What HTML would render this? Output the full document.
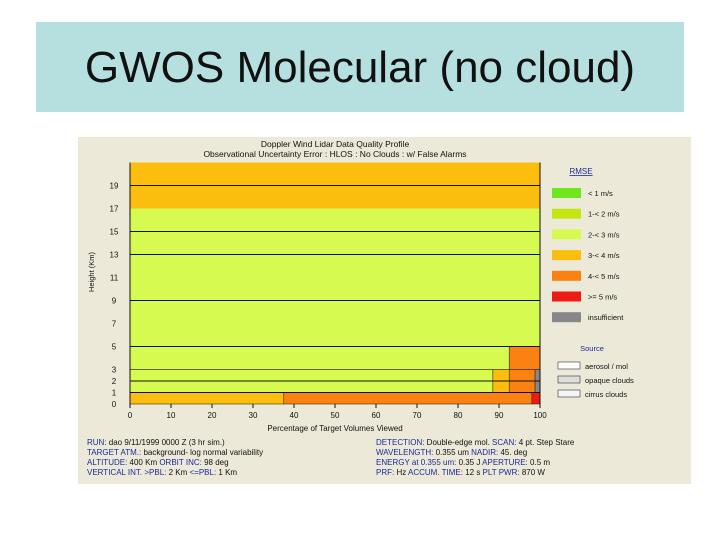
<!DOCTYPE html>
<html><head><meta charset="utf-8"><style>
body{margin:0;width:720px;height:540px;background:#fff;position:relative;overflow:hidden;font-family:"Liberation Sans",sans-serif}
#title{position:absolute;left:36px;top:22px;width:648px;height:90px;background:#b6dfe0;font-size:44px;text-align:center;line-height:92px;color:#111}
svg{position:absolute;left:0;top:0}
</style></head><body>
<div id="title">GWOS Molecular (no cloud)</div>
<svg width="720" height="540" id="chart" font-family="Liberation Sans, sans-serif">
<rect x="78" y="137" width="613" height="347" fill="#ece9d8"/>
<text x="335" y="147" font-size="8.5" text-anchor="middle" fill="#111">Doppler Wind Lidar Data Quality Profile</text>
<text x="335" y="157" font-size="8.5" text-anchor="middle" fill="#111">Observational Uncertainty Error : HLOS : No Clouds : w/ False Alarms</text>
<g id="bars"></g><g id="grid"></g><g id="axes"></g><g id="legend"></g>
<text x="94" y="272" font-size="7.5" fill="#111" text-anchor="middle" transform="rotate(-90 94 272)">Height (Km)</text>
<text x="335" y="431" font-size="8" fill="#111" text-anchor="middle">Percentage of Target Volumes Viewed</text>
<g font-size="8" fill="#1a2a9a">
<text x="87" y="445">RUN:  <tspan fill="#111">dao 9/11/1999 0000 Z (3 hr sim.)</tspan></text>
<text x="87" y="455">TARGET ATM.: <tspan fill="#111">background- log normal variability</tspan></text>
<text x="87" y="465">ALTITUDE: <tspan fill="#111">400 Km</tspan>    ORBIT INC: <tspan fill="#111">98 deg</tspan></text>
<text x="87" y="475">VERTICAL INT. &gt;PBL: <tspan fill="#111">2 Km</tspan>  &lt;=PBL: <tspan fill="#111">1 Km</tspan></text>
<text x="376" y="445">DETECTION: <tspan fill="#111">Double-edge mol.</tspan>  SCAN: <tspan fill="#111">4 pt. Step Stare</tspan></text>
<text x="376" y="455">WAVELENGTH: <tspan fill="#111">0.355 um</tspan>   NADIR: <tspan fill="#111">45. deg</tspan></text>
<text x="376" y="465">ENERGY at 0.355 um: <tspan fill="#111">0.35 J</tspan>  APERTURE: <tspan fill="#111">0.5 m</tspan></text>
<text x="376" y="475">PRF: <tspan fill="#111">Hz</tspan>  ACCUM. TIME: <tspan fill="#111">12 s</tspan> PLT PWR: <tspan fill="#111">870 W</tspan></text>
</g>
</svg>
<script>
const xTicks=[0,10,20,30,40,50,60,70,80,90,100];
const yTicks=[0,1,2,3,5,7,9,11,13,15,17,19];
const gridLevels=[1,2,5,9,13,15,19];
const bandLow=[0,1,3,5,17];
const bandHigh=[1,3,5,17,21];
const bandCats=[["c3","c4","c5"],["c2","c3","c4","ins"],["c2","c4"],["c2"],["c3"]];
const bandPcts=[[37.5,60.5,2],[88.5,4,6.3,1.2],[92.5,7.5],[100],[100]];
const legendKeys=["c0","c1","c2","c3","c4","c5","ins"];
const legendLabels=["< 1 m/s","1-< 2 m/s","2-< 3 m/s","3-< 4 m/s","4-< 5 m/s",">= 5 m/s","insufficient"];
const colors={c0:"#6ee81c",c1:"#c4e610",c2:"#d6fa50",c3:"#fbbe0e",c4:"#fb8212",c5:"#ee1a14",ins:"#888888"};
const NS="http://www.w3.org/2000/svg";
const X=v=>130+v*4.1, Y=h=>404-h*11.5;
function mk(tag,at,parent){const e=document.createElementNS(NS,tag);for(const k in at)e.setAttribute(k,at[k]);document.getElementById(parent).appendChild(e);return e;}
bandLow.forEach((lo,i)=>{let acc=0;bandPcts[i].forEach((p,j)=>{
 const r=mk("rect",{x:X(acc),y:Y(bandHigh[i]),width:X(acc+p)-X(acc),height:Y(lo)-Y(bandHigh[i]),fill:colors[bandCats[i][j]],stroke:(bandPcts[i].length>1?"#3a2a10":"none"),"stroke-width":0.6},"bars");
 
 
 acc+=p;});});
gridLevels.forEach(h=>{const l=mk("line",{x1:X(0),x2:X(100),y1:Y(h),y2:Y(h),stroke:"#111","stroke-width":1},"grid");
 
 });
mk("line",{x1:X(0),x2:X(0),y1:Y(21),y2:Y(0),stroke:"#111"},"axes");
mk("line",{x1:X(100),x2:X(100),y1:Y(21),y2:Y(0),stroke:"#111"},"axes");
xTicks.forEach(v=>{mk("line",{x1:X(v),x2:X(v),y1:404,y2:408,stroke:"#111"},"axes");
 const t=mk("text",{x:X(v),y:418,"font-size":8,"text-anchor":"middle",fill:"#111"},"axes");t.textContent=v;
 
 });
yTicks.forEach(v=>{const t=mk("text",{x:114,y:Y(v)+3,"font-size":8,"text-anchor":"middle",fill:"#111"},"axes");t.textContent=v;
 
 });
const lt=mk("text",{x:581,y:174,"font-size":8,"text-anchor":"middle",fill:"#1a2a9a","text-decoration":"underline"},"legend");lt.textContent="RMSE";
legendKeys.forEach((k,i)=>{const y=188+i*20.7;
 const r=mk("rect",{x:552,y:y,width:29,height:10,fill:colors[k]},"legend");
 
 
 const t=mk("text",{x:588,y:y+8,"font-size":7.5,fill:"#111"},"legend");t.textContent=legendLabels[i];
 
 });
const st=mk("text",{x:592,y:351,"font-size":7.5,"text-anchor":"middle",fill:"#1a2a9a"},"legend");st.textContent="Source";
[["aerosol / mol","#fff"],["opaque clouds","#ddd"],["cirrus clouds","#f4f4f4"]].forEach((s,i)=>{const y=362+i*14;
 mk("rect",{x:558,y:y,width:22,height:7,fill:s[1],stroke:"#333","stroke-width":0.6},"legend");
 const t=mk("text",{x:585,y:y+7,"font-size":7.5,fill:"#111"},"legend");t.textContent=s[0];
 
 });
</script>
</body></html>
